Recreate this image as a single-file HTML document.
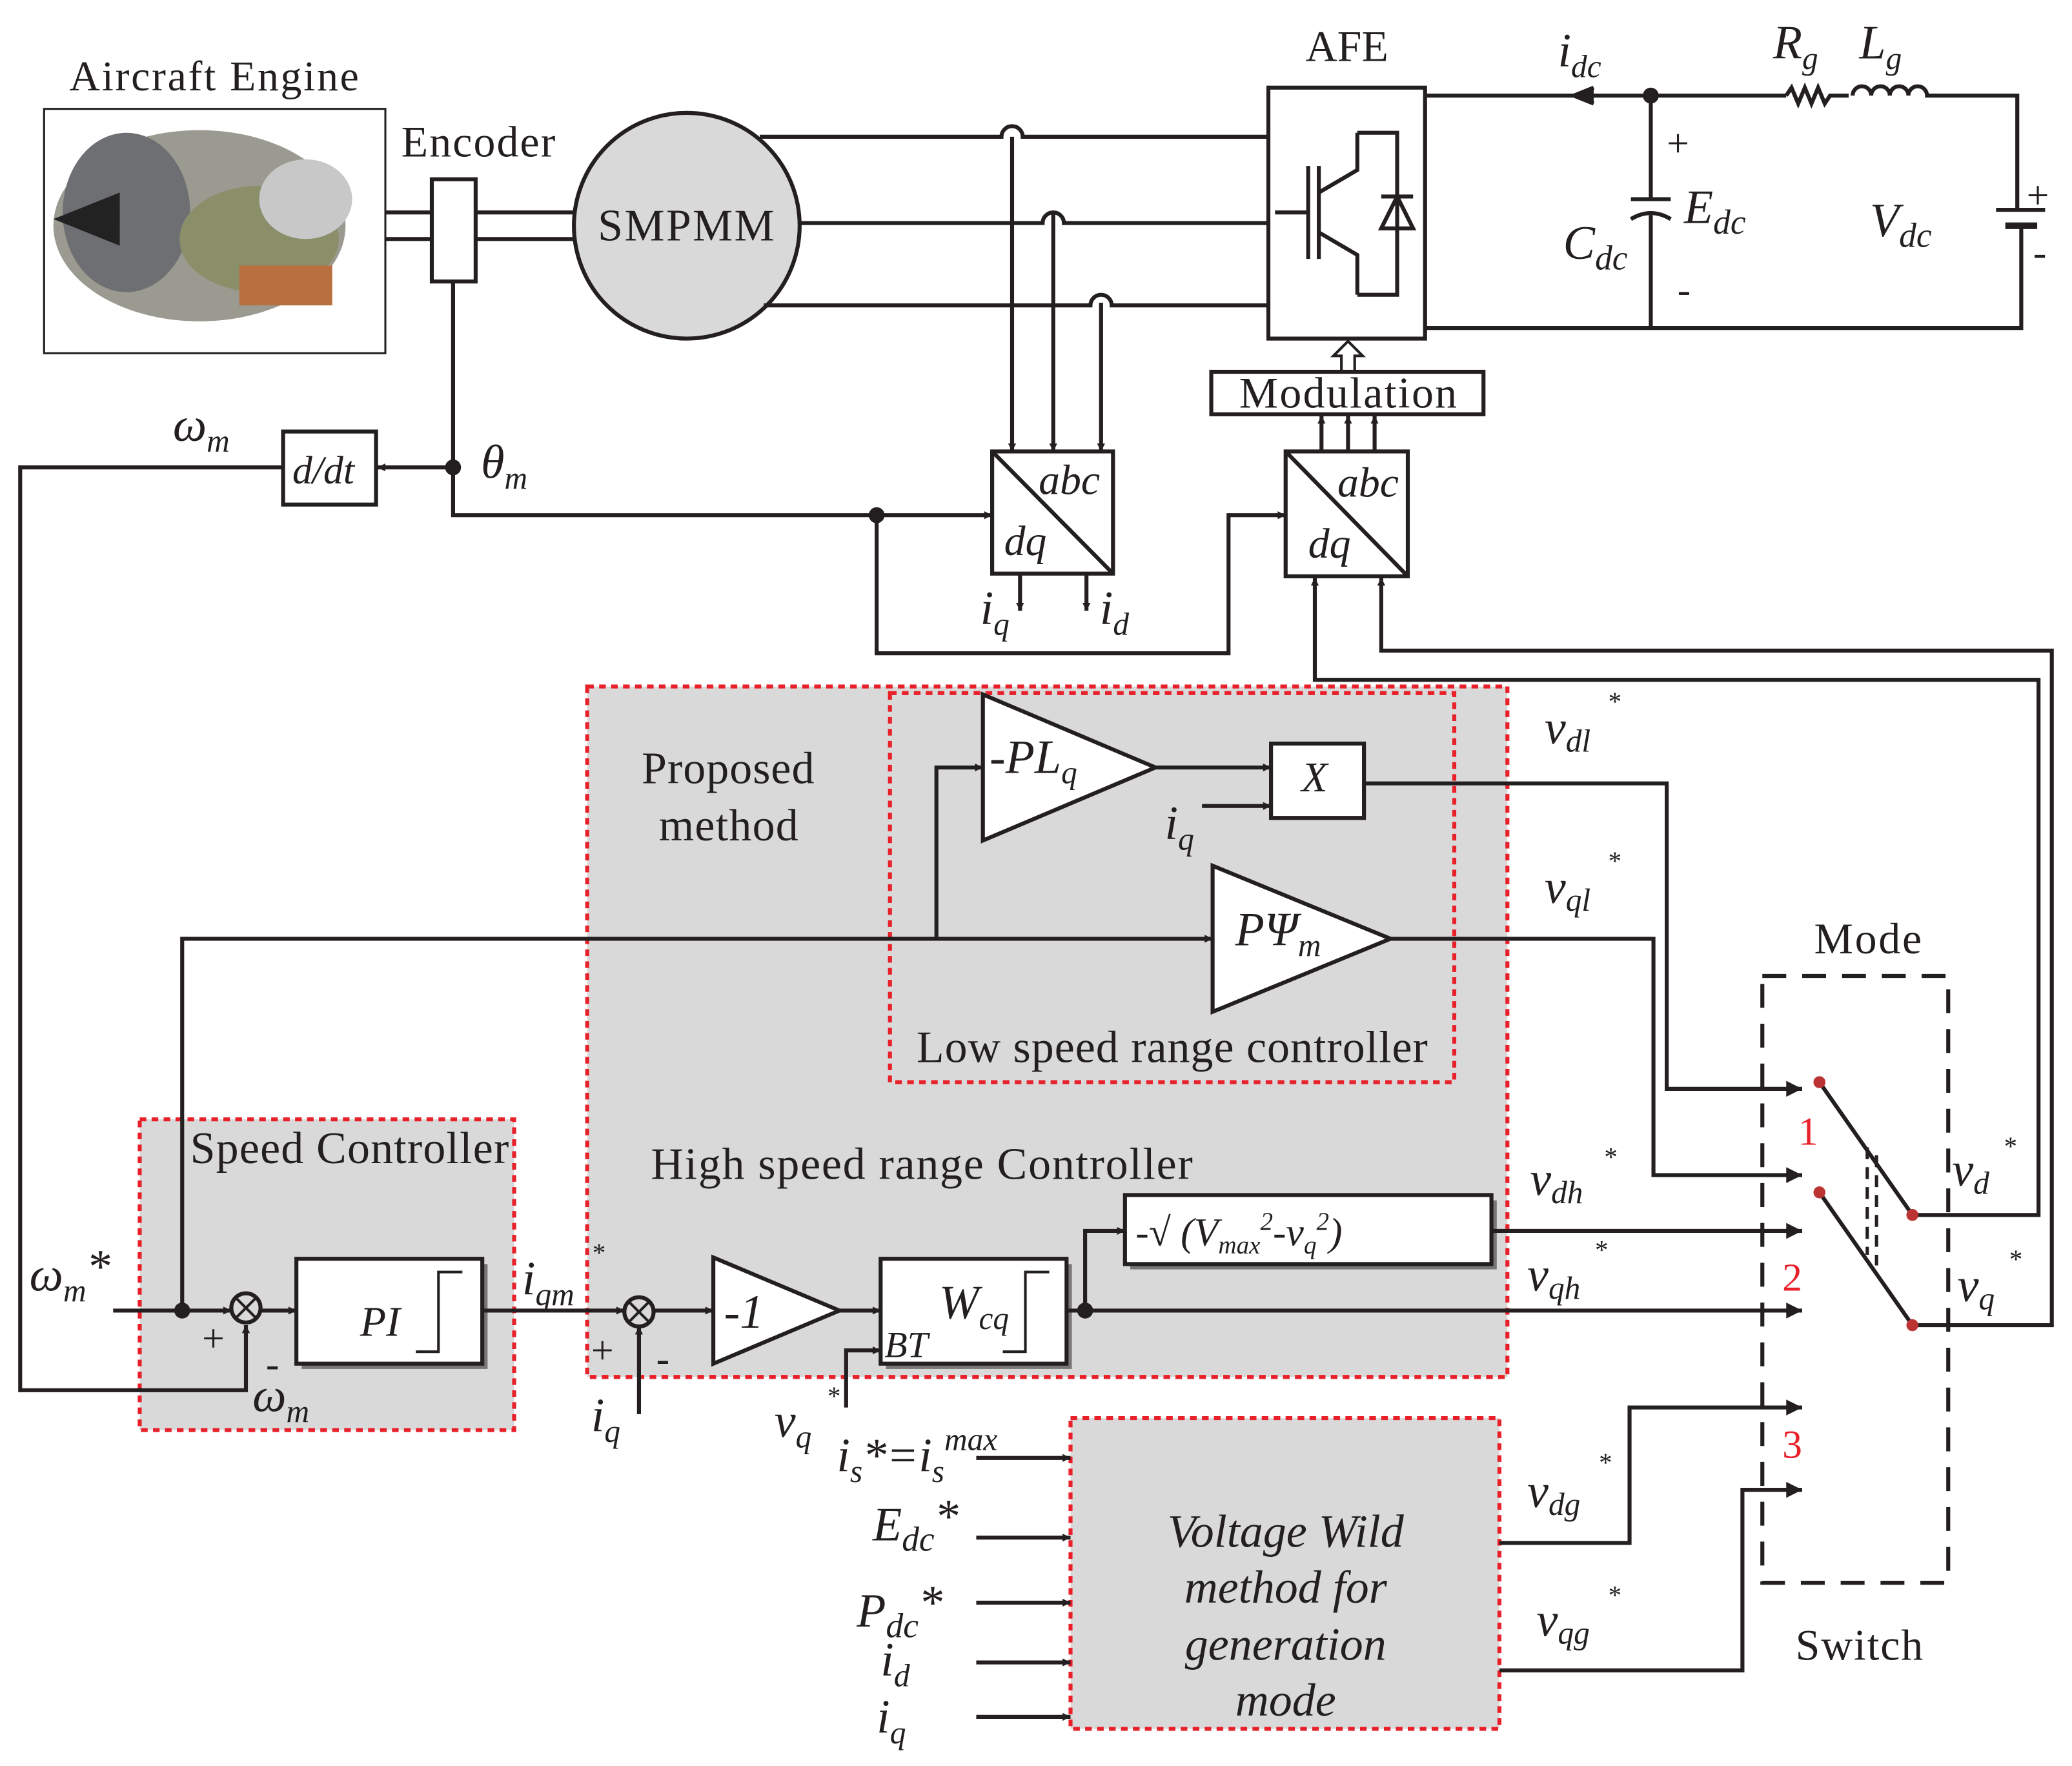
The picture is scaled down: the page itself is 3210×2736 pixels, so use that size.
<!DOCTYPE html>
<html><head><meta charset="utf-8"><style>
html,body{margin:0;padding:0;background:#fff}
svg{display:block}
text{font-family:"Liberation Serif",serif;fill:#231f20}
.i{font-style:italic}
</style></head><body>
<svg width="3210" height="2736" viewBox="0 0 1560 1330" xmlns="http://www.w3.org/2000/svg">
<defs>
<marker id="a" viewBox="0 0 10 10" refX="10" refY="5" markerWidth="7" markerHeight="6" orient="auto" markerUnits="userSpaceOnUse"><path d="M0,0L10,5L0,10z" fill="#231f20"/></marker>
<marker id="b" viewBox="0 0 10 10" refX="10" refY="5" markerWidth="22" markerHeight="12" orient="auto" markerUnits="userSpaceOnUse"><path d="M0,0L10,5L0,10z" fill="#231f20"/></marker>
</defs>
<g stroke="#231f20" stroke-width="3" fill="none">
<rect x="442" y="517" width="693" height="520" fill="#d9d9d9" stroke="#e8202a" stroke-dasharray="5,4"/>
<rect x="670" y="522" width="425" height="293" fill="none" stroke="#e8202a" stroke-dasharray="5,4"/>
<rect x="105" y="843" width="282" height="234" fill="#d9d9d9" stroke="#e8202a" stroke-dasharray="5,4"/>
<rect x="806" y="1068" width="323" height="234" fill="#d9d9d9" stroke="#e8202a" stroke-dasharray="5,4"/>
<rect x="1327" y="735" width="140" height="457" stroke-dasharray="18,12"/>
<rect x="33" y="82" width="257" height="184" stroke-width="1.5"/>
</g>
<g>
<ellipse cx="150" cy="170" rx="110" ry="72" fill="#9a9a90"/>
<ellipse cx="95" cy="160" rx="48" ry="60" fill="#6d6f72"/>
<path d="M40,165 L90,145 L90,185Z" fill="#222"/>
<ellipse cx="195" cy="180" rx="60" ry="40" fill="#8a8f6a"/>
<rect x="180" y="200" width="70" height="30" fill="#b87040"/>
<ellipse cx="230" cy="150" rx="35" ry="30" fill="#c8c8c8"/>
</g>
<g stroke="#231f20" stroke-width="3" fill="none">
<line x1="290" y1="160" x2="432" y2="160"/><line x1="290" y1="180" x2="432" y2="180"/>
<rect x="325" y="135" width="33" height="77" fill="#fff"/>
<circle cx="517" cy="170" r="85" fill="#d9d9d9"/>
<path d="M572,103H754a8,8 0 0 1 16,0H955"/>
<path d="M601,168H785a8,8 0 0 1 16,0H955"/>
<path d="M575,230H821a8,8 0 0 1 16,0H955"/>
<line x1="762" y1="103" x2="762" y2="340" marker-end="url(#a)"/>
<line x1="793" y1="160" x2="793" y2="340" marker-end="url(#a)"/>
<line x1="829" y1="228" x2="829" y2="340" marker-end="url(#a)"/>
<rect x="955" y="66" width="118" height="189"/>
<line x1="985" y1="125" x2="985" y2="195"/><line x1="960" y1="160" x2="985" y2="160"/>
<line x1="993" y1="125" x2="993" y2="195"/>
<path d="M993,145L1022,128V100M993,175L1022,192V222"/>
<path d="M1022,100H1052V222H1022"/>
<path d="M1040,172H1064L1052,148Z"/><line x1="1040" y1="148" x2="1064" y2="148"/>
<line x1="1345" y1="72" x2="1073" y2="72"/>
<path d="M1200,66L1185,72L1200,78" fill="#231f20"/>
<path d="M1345,72l4,-6l5,12l5,-12l5,12l5,-12l5,12l4,-6h14"/>
<path d="M1395,72a7,7 0 0 1 14,0a7,7 0 0 1 14,0a7,7 0 0 1 14,0a7,7 0 0 1 14,0h68V158"/>
<line x1="1503" y1="158" x2="1540" y2="158"/><line x1="1510" y1="170" x2="1534" y2="170" stroke-width="5"/>
<path d="M1522,170V247H1073"/>
<path d="M1243,72V150M1243,162V247"/>
<line x1="1228" y1="150" x2="1258" y2="150"/><path d="M1228,165Q1243,156 1258,165"/>
<rect x="912" y="280" width="205" height="32"/>
<path d="M1010,280V268H1004L1015,257L1026,268H1020V280" stroke-width="2"/>
<line x1="995" y1="340" x2="995" y2="313" marker-end="url(#a)"/>
<line x1="1015" y1="340" x2="1015" y2="313" marker-end="url(#a)"/>
<line x1="1035" y1="340" x2="1035" y2="313" marker-end="url(#a)"/>
<rect x="747" y="340" width="91" height="92"/><line x1="747" y1="340" x2="838" y2="432"/>
<rect x="968" y="340" width="92" height="94"/><line x1="968" y1="340" x2="1060" y2="434"/>
<rect x="213" y="325" width="70" height="55"/>
<path d="M341,212V388H747" marker-end="url(#a)"/>
<line x1="341" y1="352" x2="284" y2="352" marker-end="url(#a)"/>
<path d="M213,352H15V1047H185V998" marker-end="url(#a)"/>
<path d="M660,388V492H925V388H968" marker-end="url(#a)"/>
<line x1="768" y1="432" x2="768" y2="460" marker-end="url(#a)"/>
<line x1="818" y1="432" x2="818" y2="460" marker-end="url(#a)"/>
<path d="M1440,915H1535V512H990V435" marker-end="url(#a)"/>
<path d="M1440,998H1545V490H1040V435" marker-end="url(#a)"/>
<path d="M740,523V633L870,578Z" fill="#fff"/>
<path d="M913,652V762L1047,707Z" fill="#fff"/>
<path d="M537,947V1027L632,987Z" fill="#fff"/>
<rect x="957" y="560" width="70" height="56" fill="#fff"/>
<rect x="227" y="952" width="140" height="79" fill="#777" stroke="none"/>
<rect x="223" y="948" width="140" height="79" fill="#fff"/>
<path d="M313,1018H330V958H348" stroke-width="2"/>
<rect x="667" y="952" width="140" height="79" fill="#777" stroke="none"/>
<rect x="663" y="948" width="140" height="79" fill="#fff"/>
<path d="M755,1018H772V958H790" stroke-width="2"/>
<rect x="851" y="904" width="276" height="52" fill="#777" stroke="none"/>
<rect x="847" y="900" width="276" height="52" fill="#fff"/>
<line x1="870" y1="578" x2="957" y2="578" marker-end="url(#a)"/>
<line x1="905" y1="607" x2="957" y2="607" marker-end="url(#a)"/>
<path d="M1027,590H1255V820H1357" marker-end="url(#b)"/>
<path d="M1047,707H1245V885H1357" marker-end="url(#b)"/>
<path d="M137,987V707H913" marker-end="url(#a)"/>
<path d="M705,707V578H740" marker-end="url(#a)"/>
<line x1="85" y1="987" x2="174" y2="987" marker-end="url(#a)"/>
<circle cx="185" cy="985" r="11"/><path d="M177,977L193,993M193,977L177,993" stroke-width="2"/>
<line x1="196" y1="987" x2="223" y2="987" marker-end="url(#a)"/>
<line x1="363" y1="987" x2="470" y2="987" marker-end="url(#a)"/>
<circle cx="481" cy="988" r="11"/><path d="M473,980L489,996M489,980L473,996" stroke-width="2"/>
<line x1="481" y1="1065" x2="481" y2="999" marker-end="url(#a)"/>
<line x1="492" y1="987" x2="537" y2="987" marker-end="url(#a)"/>
<line x1="632" y1="987" x2="663" y2="987" marker-end="url(#a)"/>
<path d="M637,1060V1017H663" marker-end="url(#a)"/>
<line x1="803" y1="987" x2="1357" y2="987" marker-end="url(#b)"/>
<path d="M817,987V927H847" marker-end="url(#a)"/>
<line x1="1123" y1="927" x2="1357" y2="927" marker-end="url(#b)"/>
<path d="M1129,1162H1227V1060H1357" marker-end="url(#b)"/>
<path d="M1129,1258H1312V1122H1357" marker-end="url(#b)"/>
<line x1="735" y1="1098" x2="806" y2="1098" marker-end="url(#a)"/>
<line x1="735" y1="1158" x2="806" y2="1158" marker-end="url(#a)"/>
<line x1="735" y1="1207" x2="806" y2="1207" marker-end="url(#a)"/>
<line x1="735" y1="1252" x2="806" y2="1252" marker-end="url(#a)"/>
<line x1="735" y1="1293" x2="806" y2="1293" marker-end="url(#a)"/>
<line x1="1370" y1="815" x2="1440" y2="915"/>
<line x1="1370" y1="898" x2="1440" y2="998"/>
<path d="M1406,864V945M1413,870V953" stroke-width="2.5" stroke-dasharray="9,6"/>
</g>
<g fill="#231f20">
<circle cx="1243" cy="72" r="6"/><circle cx="341" cy="352" r="6"/><circle cx="660" cy="388" r="6"/>
<circle cx="137" cy="987" r="6"/><circle cx="817" cy="987" r="6"/>
<circle cx="1370" cy="815" r="4.5" fill="#b33"/><circle cx="1370" cy="898" r="4.5" fill="#b33"/>
<circle cx="1440" cy="915" r="4.5" fill="#b33"/><circle cx="1440" cy="998" r="4.5" fill="#b33"/>
</g>
<g font-size="33">
<text x="52" y="68" font-size="32" textLength="218">Aircraft Engine</text>
<text x="302" y="118" textLength="116">Encoder</text>
<text x="450" y="181" font-size="34" textLength="133">SMPMM</text>
<text x="983" y="46">AFE</text>
<text x="933" y="307" textLength="164">Modulation</text>
<text x="483" y="590" font-size="34" textLength="130">Proposed</text>
<text x="496" y="633" font-size="34" textLength="105">method</text>
<text x="690" y="800" font-size="34" textLength="385">Low speed range controller</text>
<text x="490" y="888" font-size="34" textLength="408">High speed range  Controller</text>
<text x="143" y="876" font-size="34" textLength="240">Speed Controller</text>
<text x="1366" y="718" textLength="81">Mode</text>
<text x="1352" y="1250" textLength="96">Switch</text>
<text x="1255" y="118" font-size="30">+</text><text x="1263" y="228" font-size="30">-</text>
<text x="1526" y="157" font-size="30">+</text><text x="1531" y="200" font-size="30">-</text>
<text x="152" y="1018" font-size="30">+</text><text x="445" y="1027" font-size="30">+</text><text x="494" y="1033" font-size="30">-</text>
<text x="200" y="1037" font-size="30">-</text>
<text x="1354" y="862" style="fill:#e8202a" font-size="30">1</text>
<text x="1342" y="972" style="fill:#e8202a" font-size="30">2</text>
<text x="1342" y="1098" style="fill:#e8202a" font-size="30">3</text>
</g>
<g class="i" font-size="36">
<text x="1173" y="50" class="i">i<tspan font-size="24" dy="8">dc</tspan></text>
<text x="1335" y="44" class="i">R<tspan font-size="24" dy="8">g</tspan></text>
<text x="1400" y="44" class="i">L<tspan font-size="24" dy="8">g</tspan></text>
<text x="1268" y="168" class="i">E<tspan font-size="26" dy="8">dc</tspan></text>
<text x="1177" y="195" class="i">C<tspan font-size="26" dy="8">dc</tspan></text>
<text x="1408" y="178" class="i">V<tspan font-size="26" dy="8">dc</tspan></text>
<text x="130" y="332" class="i">ω<tspan font-size="24" dy="8">m</tspan></text>
<text x="220" y="364" class="i" font-size="30">d/dt</text>
<text x="362" y="360" class="i">θ<tspan font-size="24" dy="8">m</tspan></text>
<text x="782" y="372" class="i" font-size="32">abc</text><text x="756" y="418" class="i" font-size="32">dq</text>
<text x="1007" y="374" class="i" font-size="32">abc</text><text x="985" y="420" class="i" font-size="32">dq</text>
<text x="738" y="470" class="i">i<tspan font-size="24" dy="8">q</tspan></text>
<text x="828" y="470" class="i">i<tspan font-size="24" dy="8">d</tspan></text>
<text x="745" y="582" class="i">-PL<tspan font-size="24" dy="8">q</tspan></text>
<text x="980" y="596" class="i" font-size="32">X</text>
<text x="877" y="632" class="i">i<tspan font-size="24" dy="8">q</tspan></text>
<text x="930" y="712" class="i">PΨ<tspan font-size="24" dy="8">m</tspan></text>
<text x="1163" y="560" class="i">v<tspan font-size="24" dy="6">dl</tspan></text><text x="1210" y="535" font-size="20">*</text>
<text x="1163" y="680" class="i">v<tspan font-size="24" dy="6">ql</tspan></text><text x="1210" y="655" font-size="20">*</text>
<text x="1152" y="900" class="i">v<tspan font-size="24" dy="6">dh</tspan></text><text x="1207" y="878" font-size="20">*</text>
<text x="1150" y="972" class="i">v<tspan font-size="24" dy="6">qh</tspan></text><text x="1200" y="948" font-size="20">*</text>
<text x="1150" y="1135" class="i">v<tspan font-size="24" dy="6">dg</tspan></text><text x="1203" y="1108" font-size="20">*</text>
<text x="1157" y="1232" class="i">v<tspan font-size="24" dy="6">qg</tspan></text><text x="1210" y="1208" font-size="20">*</text>
<text x="1470" y="893" class="i">v<tspan font-size="24" dy="6">d</tspan></text><text x="1508" y="870" font-size="20">*</text>
<text x="1474" y="980" class="i">v<tspan font-size="24" dy="6">q</tspan></text><text x="1512" y="955" font-size="20">*</text>
<text x="22" y="972" class="i">ω<tspan font-size="24" dy="8">m</tspan><tspan dy="-14">*</tspan></text>
<text x="190" y="1063" class="i">ω<tspan font-size="24" dy="8">m</tspan></text>
<text x="271" y="1006" class="i" font-size="32">PI</text>
<text x="393" y="975" class="i">i<tspan font-size="24" dy="8">qm</tspan></text><text x="445" y="950" font-size="20">*</text>
<text x="445" y="1078" class="i">i<tspan font-size="24" dy="8">q</tspan></text>
<text x="545" y="1000" class="i">-1</text>
<text x="707" y="993" class="i">W<tspan font-size="24" dy="8">cq</tspan></text>
<text x="666" y="1022" class="i" font-size="28">BT</text>
<text x="855" y="938" class="i" font-size="30">-√ (V<tspan font-size="19" dy="6">max</tspan><tspan font-size="19" dy="-18">2</tspan><tspan dy="12">-v</tspan><tspan font-size="19" dy="6">q</tspan><tspan font-size="19" dy="-18">2</tspan><tspan dy="12">)</tspan></text>
<text x="583" y="1082" class="i">v<tspan font-size="24" dy="8">q</tspan></text><text x="622" y="1058" font-size="20">*</text>
<text x="630" y="1108" class="i">i<tspan font-size="24" dy="8">s</tspan><tspan dy="-8">*=i</tspan><tspan font-size="24" dy="8">s</tspan><tspan font-size="24" dy="-24">max</tspan></text>
<text x="657" y="1160" class="i">E<tspan font-size="26" dy="8">dc</tspan><tspan dy="-14">*</tspan></text>
<text x="645" y="1225" class="i">P<tspan font-size="26" dy="8">dc</tspan><tspan dy="-14">*</tspan></text>
<text x="663" y="1262" class="i">i<tspan font-size="24" dy="8">d</tspan></text>
<text x="660" y="1305" class="i">i<tspan font-size="24" dy="8">q</tspan></text>
<text x="968" y="1165" class="i" font-size="35" text-anchor="middle">Voltage Wild</text>
<text x="968" y="1207" class="i" font-size="35" text-anchor="middle">method for</text>
<text x="968" y="1250" class="i" font-size="35" text-anchor="middle">generation</text>
<text x="968" y="1292" class="i" font-size="35" text-anchor="middle">mode</text>
</g>
</svg>
</body></html>
